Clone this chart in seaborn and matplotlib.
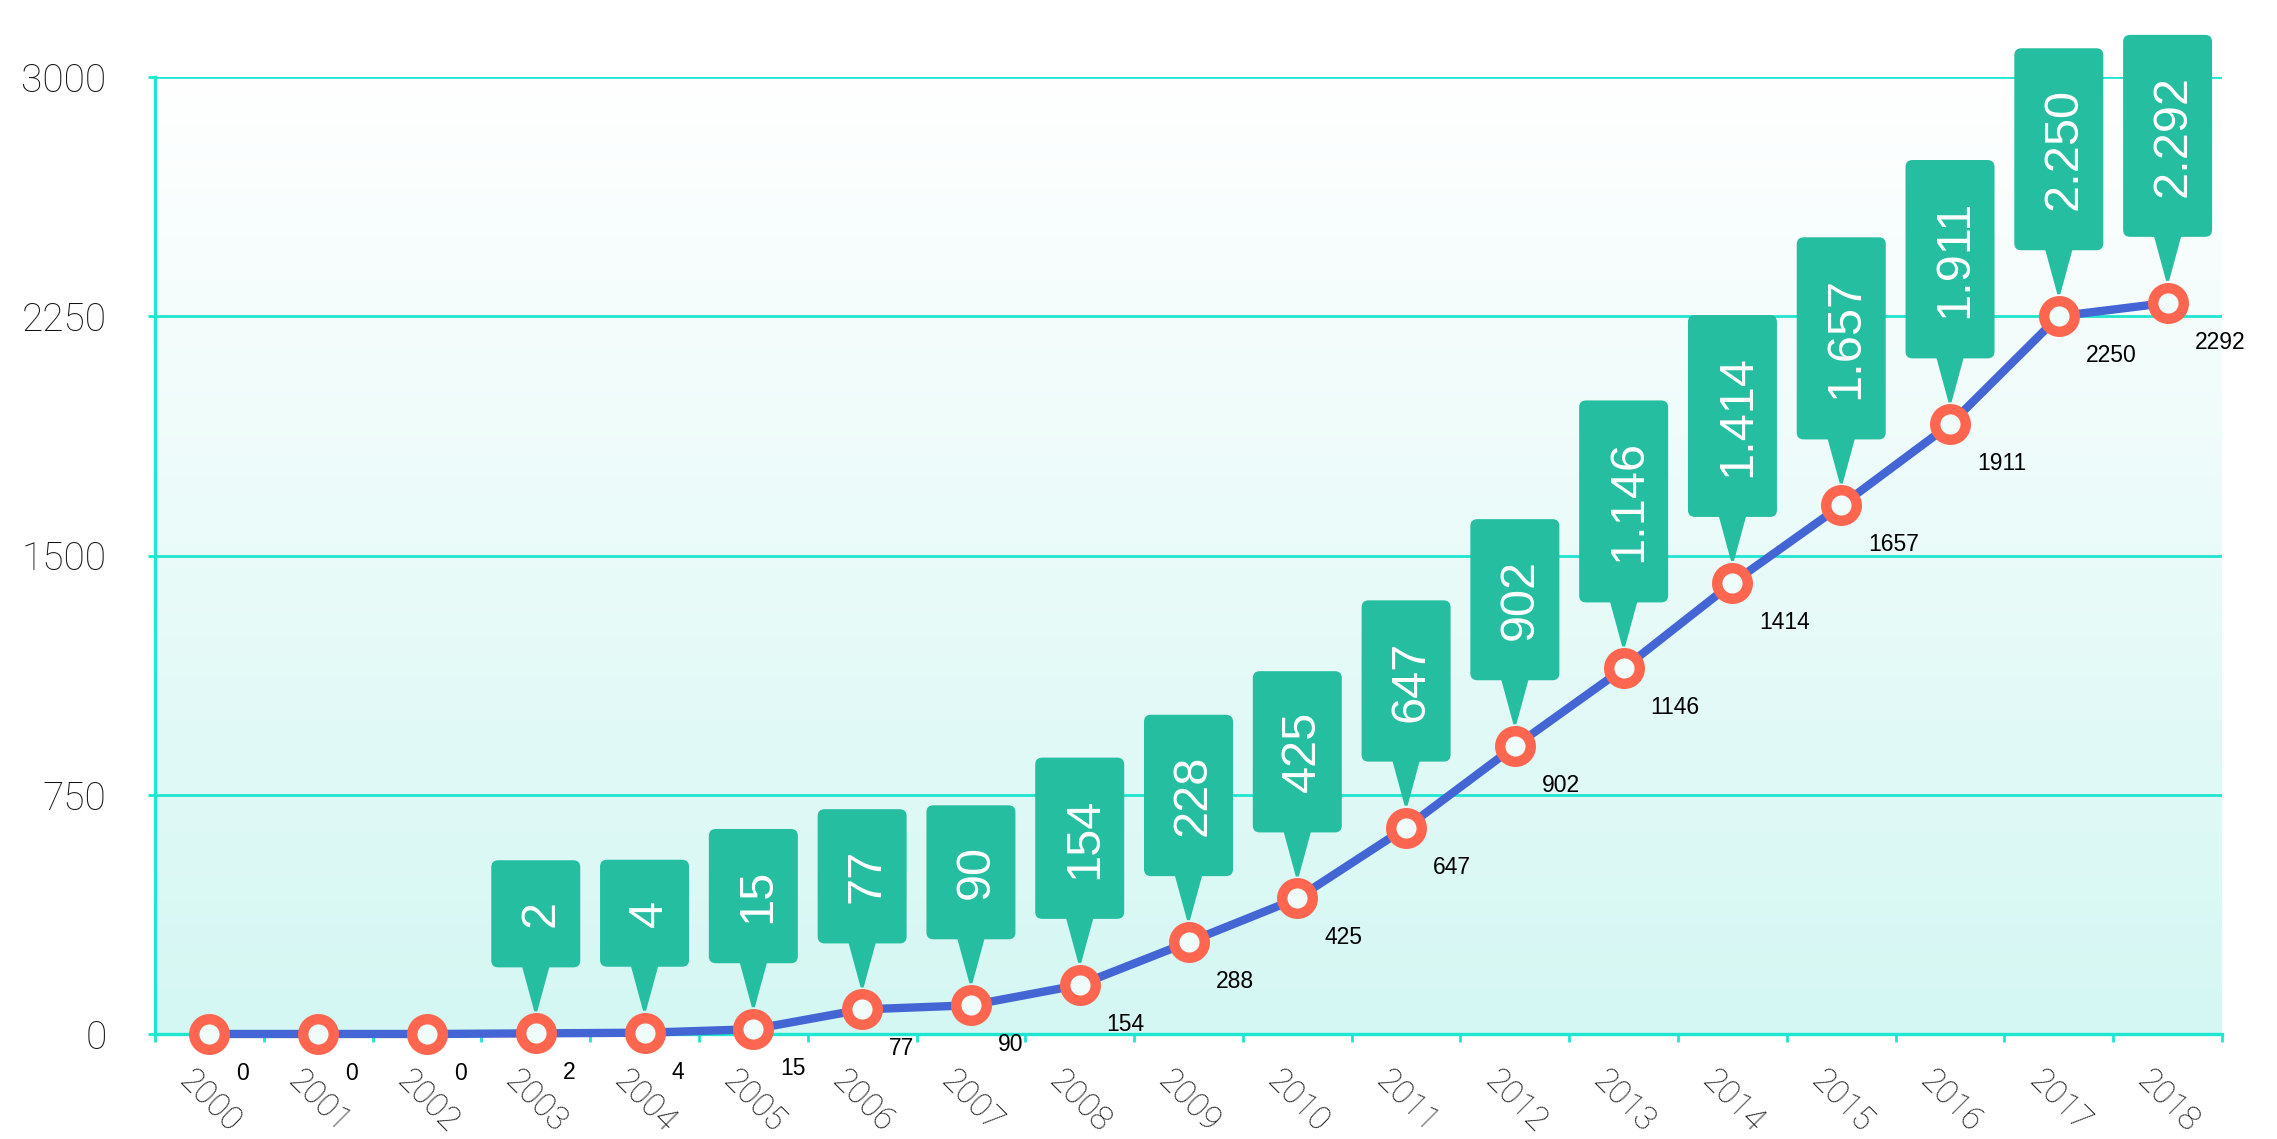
import matplotlib
matplotlib.use("Agg")
import matplotlib.pyplot as plt
import matplotlib.transforms as mtransforms
from matplotlib.colors import LinearSegmentedColormap
from matplotlib.patches import FancyBboxPatch, Polygon
import numpy as np
import pandas as pd
import seaborn as sns

# --- veri ---
yillar = ["2000", "2001", "2002", "2003", "2004", "2005", "2006", "2007", "2008", "2009",
          "2010", "2011", "2012", "2013", "2014", "2015", "2016", "2017", "2018"]
degerler = [0, 0, 0, 2, 4, 15, 77, 90, 154, 288, 425, 647, 902, 1146, 1414, 1657, 1911, 2250, 2292]
# balonlardaki yazilar (2009 balonu grafikte 228 yaziyor)
balon_yazilari = ["", "", "", "2", "4", "15", "77", "90", "154", "228", "425", "647", "902",
                  "1.146", "1.414", "1.657", "1.911", "2.250", "2.292"]
y_tikleri = [0, 750, 1500, 2250, 3000]

# renkler
TURKUAZ = "#1fe6d0"
MAVI = "#4366d4"
HALKA = "#ff664f"
BALON = "#26bea1"
YAZI = "#111111"

sns.set_style("white")
plt.rcParams["font.family"] = ["Liberation Sans", "DejaVu Sans"]

W, H = 2277, 1139
fig = plt.figure(figsize=(W / 100, H / 100), dpi=100)
sol, sag, alt, ust = 155, 2222, 1034, 77
ax = fig.add_axes([sol / W, 1 - alt / H, (sag - sol) / W, (alt - ust) / H])
ax.set_facecolor("none")

# arka plan gradyani
gradyan = np.linspace(0, 1, 256).reshape(-1, 1)
cmap = LinearSegmentedColormap.from_list("arka", ["#d4f7f3", "#ffffff"])
ax.imshow(gradyan, extent=(0, 1, 0, 1), transform=ax.transAxes, cmap=cmap,
          aspect="auto", origin="lower", zorder=0)

df = pd.DataFrame({"sira": range(len(yillar)), "yil": yillar, "deger": degerler})
sns.lineplot(data=df, x="sira", y="deger", ax=ax, color=MAVI, lw=6, marker="o",
             markersize=22, markerfacecolor="#effcfa", markeredgecolor=HALKA,
             markeredgewidth=7.5, zorder=3, clip_on=False)

ax.set_xlim(-0.5, len(yillar) - 0.5)
ax.set_ylim(0, 3000)
ax.set_xlabel("")
ax.set_ylabel("")
ax.set_yticks(y_tikleri)
ax.set_xticks(range(len(yillar)))
ax.set_xticklabels(yillar, rotation=-45, ha="center")
ax.set_xticks(np.arange(-0.5, len(yillar)), minor=True)

ax.set_axisbelow(True)
ax.yaxis.grid(True, color=TURKUAZ, lw=2)
ax.xaxis.grid(False)
for k in ["top", "right"]:
    ax.spines[k].set_visible(False)
for k in ["left", "bottom"]:
    ax.spines[k].set_color(TURKUAZ)
    ax.spines[k].set_linewidth(2.4)

ax.tick_params(axis="x", which="major", bottom=True, length=0, pad=22, labelsize=24, labelcolor=YAZI)
ax.tick_params(axis="x", which="minor", bottom=True, length=6, width=2, color=TURKUAZ, direction="out")
ax.tick_params(axis="y", left=True, length=5, width=2, color=TURKUAZ, pad=30, labelsize=28, labelcolor=YAZI)
for lbl in ax.get_xticklabels() + ax.get_yticklabels():
    lbl.set_fontfamily(["Roboto", "DejaVu Sans"])
    lbl.set_fontweight("light")

# kucuk deger etiketleri
for i, v in enumerate(degerler):
    ax.annotate(str(v), xy=(i, v), xytext=(27, -28), textcoords="offset pixels",
                ha="left", va="top", fontsize=16.5, color="black", zorder=5)

# balonlar
renderer = fig.canvas.get_renderer()
bosluk = 40
genislik = 89
taban = 66
punto = 35
buyuk_harf = 0.716 * punto * 100 / 72
for i, v in enumerate(degerler):
    yazi = balon_yazilari[i]
    if not yazi:
        continue
    tr = mtransforms.ScaledTranslation(i, v, ax.transData)
    t = ax.text(buyuk_harf / 2, taban + bosluk, yazi, transform=tr, rotation=90,
                rotation_mode="anchor", ha="left", va="baseline", fontsize=punto,
                color="white", zorder=6, clip_on=False)
    uzunluk = t.get_window_extent(renderer).height
    kutu = FancyBboxPatch((-genislik / 2, taban), genislik, uzunluk + 2 * bosluk,
                          boxstyle="round,pad=0,rounding_size=7", transform=tr,
                          fc=BALON, ec="none", zorder=4, clip_on=False)
    ax.add_patch(kutu)
    ok = Polygon([(-14, taban + 2), (14, taban + 2), (1.5, 22), (-1.5, 22)], closed=True,
                 transform=tr, fc=BALON, ec="none", zorder=4, clip_on=False)
    ax.add_patch(ok)

fig.savefig("out.png", dpi=100)
